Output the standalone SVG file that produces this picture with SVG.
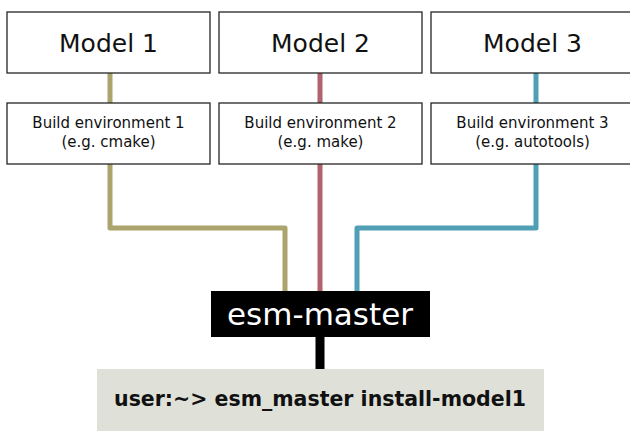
<svg xmlns="http://www.w3.org/2000/svg" width="630" height="431" viewBox="0 0 630 431">
<style>
.box{fill:#fff;stroke:#262626;stroke-width:1.3}
.mt{font-family:"DejaVu Sans",Verdana,sans-serif;font-size:25px;fill:#111;text-anchor:middle}
.bt{font-family:"DejaVu Sans",Verdana,sans-serif;font-size:15px;fill:#111;text-anchor:middle}
.c{fill:none;stroke-width:5;stroke-linejoin:round}
</style>
<rect width="630" height="431" fill="#fff"/>
<g id="connectors">
<path class="c" stroke="#aba46d" d="M110,73V103M110,164V228H285V292"/>
<path class="c" stroke="#b0636d" d="M320,73V103M320,164V292"/>
<path class="c" stroke="#509fb4" d="M536,73V103M536,164V228H357V292"/>
<path stroke="#000" stroke-width="9" d="M320,336V370"/>
</g>
<g id="model1"><rect class="box" x="7" y="12" width="203" height="61"/><text class="mt" x="108.5" y="52">Model 1</text></g>
<g id="model2"><rect class="box" x="219" y="12" width="203" height="61"/><text class="mt" x="320.5" y="52">Model 2</text></g>
<g id="model3"><rect class="box" x="431" y="12" width="203" height="61"/><text class="mt" x="532.5" y="52">Model 3</text></g>
<g id="build1"><rect class="box" x="7" y="103" width="203" height="61"/><text class="bt" x="108.5" y="128">Build environment 1</text><text class="bt" x="108.5" y="147">(e.g. cmake)</text></g>
<g id="build2"><rect class="box" x="219" y="103" width="203" height="61"/><text class="bt" x="320.5" y="128">Build environment 2</text><text class="bt" x="320.5" y="147">(e.g. make)</text></g>
<g id="build3"><rect class="box" x="431" y="103" width="203" height="61"/><text class="bt" x="532.5" y="128">Build environment 3</text><text class="bt" x="532.5" y="147">(e.g. autotools)</text></g>
<g id="esm-master"><rect x="211" y="291" width="219" height="46" fill="#000"/><text x="320" y="325" font-family="DejaVu Sans,Verdana,sans-serif" font-size="31" fill="#fff" text-anchor="middle">esm-master</text></g>
<g id="command"><rect x="97" y="369" width="447" height="62" fill="#dfe1d9"/><text x="320" y="406" font-family="DejaVu Sans,Verdana,sans-serif" font-size="20.5" font-weight="bold" fill="#111" text-anchor="middle">user:~&gt; esm_master install-model1</text></g>
</svg>
